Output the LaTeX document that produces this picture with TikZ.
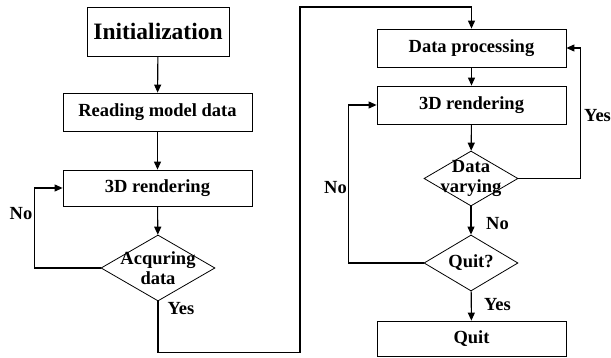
\documentclass[tikz,border=0pt]{standalone}
\usepackage{fontspec}
\setmainfont{Liberation Serif}
\usetikzlibrary{shapes.geometric,arrows.meta}
\begin{document}
\begin{tikzpicture}[x=1pt,y=-1pt,
  every node/.style={font=\fontsize{18.5}{20}\selectfont\bfseries},
  box/.style={draw,line width=0.8pt,inner sep=0pt,minimum width=189pt,minimum height=38pt},
  dia/.style={draw,diamond,line width=0.8pt,inner sep=0pt},
  dtext/.style={align=center,inner sep=0pt},
  arr/.style={line width=1.1pt,-{Triangle[length=8pt,width=7pt]}},
  ln/.style={line width=1.1pt},
  lbl/.style={inner sep=0pt}]
\useasboundingbox (0,0) rectangle (611,358);
% left column
\node[box,minimum width=142pt,minimum height=49pt,font=\fontsize{23.5}{26}\selectfont\bfseries] (init) at (158,31.5) {Initialization};
\node[box] (read) at (157.5,112) {Reading model data};
\node[box,minimum height=36pt] (r3da) at (157.5,188) {3D rendering};
\node[dia,minimum width=114pt,minimum height=66pt,label={[dtext]center:{Acquring\\data}}] (acq) at (158,268) {};
% right column
\node[box] (proc) at (471.5,48) {Data processing};
\node[box] (r3db) at (471.5,105) {3D rendering};
\node[dia,minimum width=94pt,minimum height=55pt,label={[dtext]center:{Data\\varying}}] (vary) at (471,178.5) {};
\node[dia,minimum width=94pt,minimum height=56pt,label={[dtext]center:{Quit?}}] (quitq) at (471,263) {};
\node[box,minimum height=35pt] (quit) at (471.5,338.5) {Quit};
% connectors
\draw[arr] (init) -- (read);
\draw[arr] (read) -- (r3da);
\draw[arr] (r3da) -- (acq);
\draw[arr] (acq.west) -- ++(-66,0) |- (r3da.west);
\coordinate (c1) at (300,7);
\draw[arr] (acq.south) -- ++(0,51) -| (c1) -| (proc.north);
\draw[arr] (proc) -- (r3db);
\draw[arr] (r3db) -- (vary);
\draw[arr] (vary.east) -- ++(62,0) |- (proc.east);
\draw[arr] (vary) -- (quitq);
\draw[arr] (quitq.west) -- ++(-75,0) |- (r3db.west);
\draw[arr] (quitq) -- (quit);
% labels
\node[lbl] (no1) at (21,214) {No};
\node[lbl] (yes1) at (181,309) {Yes};
\node[lbl,anchor=west] (yes2) at (584,116) {Yes};
\node[lbl] (no2) at (335.5,188) {No};
\node[lbl] (no3) at (497.5,224) {No};
\node[lbl] (yes3) at (497.5,305) {Yes};
\end{tikzpicture}
\end{document}
